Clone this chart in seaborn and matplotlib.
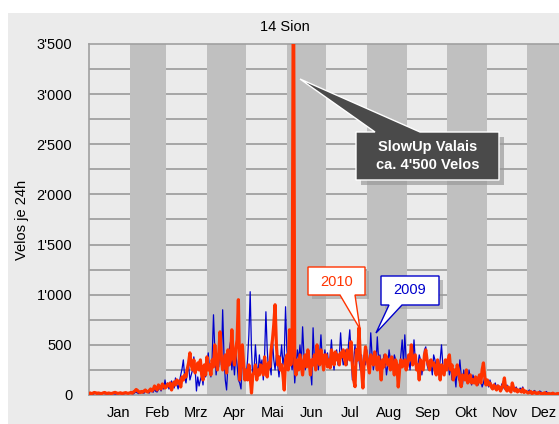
import numpy as np
import pandas as pd
import matplotlib
matplotlib.use("Agg")
import matplotlib.pyplot as plt
import seaborn as sns
from matplotlib.patches import Rectangle, Polygon

# ---------------- data ----------------
months = ["Jan", "Feb", "Mrz", "Apr", "Mai", "Jun", "Jul", "Aug", "Sep", "Okt", "Nov", "Dez"]
month_days = [31, 28, 31, 30, 31, 30, 31, 31, 30, 31, 30, 31]
y_ticks = [0, 500, 1000, 1500, 2000, 2500, 3000, 3500]
title = "14 Sion"
y_label = "Velos je 24h"

v2009 = [
    # Jan
    12, 15, 10, 8, 14, 18, 16, 12, 10, 9, 15, 17, 13, 11, 10, 12, 16, 18, 14, 12, 9, 11, 15, 17, 14, 12, 10, 13, 16, 19, 15,
    # Feb
    18, 22, 15, 12, 25, 30, 20, 14, 28, 35, 22, 18, 40, 30, 25, 20, 45, 38, 28, 60, 35, 30, 55, 70, 40, 90, 60, 150,
    # Mrz
    80, 120, 60, 90, 140, 100, 70, 170, 110, 60, 130, 200, 260, 350, 180, 120, 220, 300, 150, 200, 250, 380, 260, 40, 180, 90, 150, 200, 100, 250, 180,
    # Apr
    300, 420, 250, 180, 380, 800, 450, 200, 350, 280, 500, 300, 850, 400, 150, 50, 300, 450, 530, 250, 380, 200, 420, 300, 150, 120, 60, 380, 250, 180,
    # Mai
    200, 350, 600, 1030, 450, 150, 250, 500, 300, 200, 400, 280, 350, 150, 400, 830, 450, 250, 300, 200, 550, 350, 250, 400, 300, 180, 350, 500, 300, 400, 880,
    # Jun
    450, 300, 600, 350, 250, 400, 120, 300, 450, 350, 500, 300, 680, 400, 250, 350, 450, 300, 250, 100, 670, 350, 300, 450, 250, 400, 600, 350, 300, 450,
    # Jul
    350, 420, 300, 380, 550, 350, 250, 400, 450, 300, 380, 620, 400, 300, 350, 450, 300, 500, 650, 420, 150, 350, 500, 300, 450, 350, 250, 400, 120, 350, 300,
    # Aug
    450, 350, 300, 620, 400, 250, 350, 300, 580, 350, 400, 300, 250, 400, 350, 200, 300, 450, 350, 250, 300, 400, 350, 200, 300, 250, 400, 550, 300, 600, 350,
    # Sep
    300, 350, 250, 400, 300, 550, 350, 250, 300, 400, 350, 200, 300, 450, 480, 300, 250, 350, 300, 200, 400, 350, 250, 300, 200, 350, 500, 300, 200, 250,
    # Okt
    250, 350, 200, 300, 150, 250, 200, 80, 300, 150, 350, 200, 100, 250, 150, 200, 120, 250, 150, 100, 200, 150, 120, 180, 100, 200, 150, 80, 120, 180, 100,
    # Nov
    120, 80, 150, 100, 60, 90, 120, 70, 100, 80, 50, 110, 90, 60, 80, 100, 50, 70, 60, 90, 40, 60, 80, 50, 40, 70, 50, 80, 40, 30,
    # Dez
    40, 30, 50, 25, 20, 35, 45, 30, 20, 25, 40, 30, 20, 15, 25, 35, 20, 15, 10, 20, 25, 15, 12, 18, 10, 15, 20, 12, 10, 15, 12,
]

v2010 = [
    # Jan
    15, 20, 12, 18, 25, 22, 15, 20, 18, 14, 16, 22, 25, 18, 15, 20, 17, 14, 19, 23, 26, 20, 16, 18, 22, 15, 17, 21, 24, 18, 16,
    # Feb
    20, 25, 18, 30, 40, 55, 45, 30, 25, 35, 28, 40, 50, 35, 30, 45, 60, 40, 55, 90, 70, 50, 100, 80, 60, 110, 90, 70,
    # Mrz
    80, 110, 90, 120, 50, 90, 130, 100, 150, 120, 140, 80, 180, 150, 200, 180, 260, 320, 420, 300, 250, 350, 220, 280, 320, 250, 350, 200, 150, 300, 200,
    # Apr
    380, 250, 300, 200, 350, 280, 500, 350, 250, 400, 630, 380, 250, 300, 400, 220, 450, 300, 350, 650, 400, 300, 450, 550, 950, 150, 350, 500, 300, 150,
    # Mai
    250, 150, 300, 180, 20, 200, 230, 300, 150, 250, 200, 300, 250, 200, 380, 250, 180, 320, 280, 450, 550, 700, 900, 500, 300, 380, 250, 300, 200, 50, 350,
    # Jun
    400, 250, 650, 300, 450, 4500, 300, 200, 350, 250, 400, 300, 200, 350, 400, 280, 450, 320, 200, 350, 300, 400, 250, 500, 350, 300, 450, 380, 250, 400,
    # Jul
    400, 280, 350, 270, 450, 380, 300, 430, 350, 400, 300, 420, 380, 450, 370, 300, 450, 400, 350, 530, 300, 150, 83, 450, 350, 670, 400, 250, 70, 350, 480,
    # Aug
    380, 300, 220, 400, 350, 300, 430, 350, 250, 380, 300, 150, 350, 280, 400, 380, 300, 350, 250, 380, 300, 200, 350, 300, 80, 250, 350, 280, 300, 350, 250,
    # Sep
    300, 400, 350, 500, 300, 350, 400, 250, 300, 150, 350, 300, 250, 400, 450, 350, 300, 250, 350, 300, 320, 250, 200, 350, 280, 150, 300, 250, 200, 350,
    # Okt
    250, 350, 400, 250, 300, 150, 250, 200, 300, 250, 150, 83, 200, 180, 150, 250, 120, 150, 200, 120, 150, 120, 180, 100, 150, 200, 120, 250, 320, 180, 100,
    # Nov
    150, 100, 120, 80, 60, 100, 70, 50, 90, 80, 40, 70, 100, 170, 60, 40, 80, 50, 30, 120, 70, 40, 60, 30, 50, 40, 30, 60, 25, 40,
    # Dez
    30, 20, 25, 35, 15, 20, 30, 18, 12, 25, 20, 15, 10, 18, 22, 12, 10, 15, 8, 12, 18, 10, 8, 12, 15, 10, 8, 6, 10, 12, 8,
]

# ---------------- style ----------------
sns.set_theme(style="white")
plt.rcParams["font.family"] = ["Liberation Sans", "DejaVu Sans"]

W, H = 559, 424
fig = plt.figure(figsize=(W / 100, H / 100), dpi=100)
fig.patch.set_facecolor("white")


def F(x, y):
    return (x / W, 1 - y / H)


# grey panel behind everything
fig.patches.append(Rectangle((8 / W, 0), (W - 8) / W, (H - 13) / H,
                             transform=fig.transFigure, facecolor="#ebebeb",
                             edgecolor="none", zorder=-10))

ax = fig.add_axes([89 / W, (H - 395) / H, 478.3 / W, 351 / H])
ax.set_facecolor("#ebebeb")

n = min(len(v2009), len(v2010))
df = pd.DataFrame({"day": np.arange(n), "2009": v2009[:n], "2010": v2010[:n]})

# month bands
starts = np.cumsum([0] + month_days[:-1])
for i, (s, d) in enumerate(zip(starts, month_days)):
    if i % 2 == 1:
        ax.axvspan(s, s + d, color="#c0c0c0", lw=0, zorder=1)
# grid lines
for yv in np.arange(250, 3500, 250):
    ax.axhline(yv, color="#a0a0a0", lw=1.3, zorder=0.5)

sns.lineplot(data=df, x="day", y="2009", color="#0000cc", lw=0.9, ax=ax, zorder=3)
sns.lineplot(data=df, x="day", y="2010", color="#ff3300", lw=2.3, ax=ax, zorder=4)

ax.set_xlim(0, 365)
ax.set_ylim(0, 3500)
ax.set_xlabel("")
ax.set_ylabel("")
ax.set_yticks(y_ticks)
ax.set_yticklabels([f"{v:,}".replace(",", "'") for v in y_ticks])
ax.set_xticks(np.linspace(22.5, 346.7, len(months)))
ax.set_xticklabels(months)
ax.tick_params(axis="both", length=0, labelsize=10.5, colors="black")
ax.tick_params(axis="y", pad=12)
ax.tick_params(axis="x", pad=8)
for sp in ["left", "bottom", "top"]:
    ax.spines[sp].set_color("#a0a0a0")
    ax.spines[sp].set_linewidth(1.2)
ax.spines["right"].set_visible(False)

fig.text(*F(285, 27), title, ha="center", va="center", fontsize=10.5, color="black")
fig.text(*F(22, 220), y_label, ha="center", va="center", rotation=90, fontsize=10.5, color="black")


def poly(points, **kw):
    p = Polygon([F(x, y) for x, y in points], closed=True, transform=fig.transFigure, **kw)
    fig.patches.append(p)


# SlowUp callout
poly([(361, 137), (504, 137), (504, 185), (361, 185)], facecolor="#9a9a9a", edgecolor="none", alpha=0.7, zorder=9)
poly([(356, 132), (375, 132), (300, 79), (420, 132), (499, 132), (499, 180), (356, 180)],
     facecolor="#4a4a4a", edgecolor="white", lw=1, zorder=10)
fig.text(*F(427.5, 156), "SlowUp Valais\nca. 4'500 Velos", ha="center", va="center",
         fontsize=10.5, fontweight="bold", color="white", linespacing=1.35, zorder=11)

# 2010 callout
poly([(312, 271), (369, 271), (369, 299), (312, 299)], facecolor="#9a9a9a", edgecolor="none", alpha=0.6, zorder=9)
poly([(308, 267), (365, 267), (365, 295), (355, 295), (360, 329), (340, 295), (308, 295)],
     facecolor="white", edgecolor="#ff3300", lw=1, zorder=10)
fig.text(*F(336.5, 281.5), "2010", ha="center", va="center", fontsize=10.5, color="#ff3300", zorder=11)

# 2009 callout
poly([(385, 280), (443, 280), (443, 309), (385, 309)], facecolor="#9a9a9a", edgecolor="none", alpha=0.6, zorder=9)
poly([(381, 276), (439, 276), (439, 305), (402, 305), (376, 333), (389, 305), (381, 305)],
     facecolor="white", edgecolor="#0000cc", lw=1, zorder=10)
fig.text(*F(410, 290.5), "2009", ha="center", va="center", fontsize=10.5, color="#0000cc", zorder=11)

fig.savefig("out.png", dpi=100, facecolor=fig.get_facecolor())
